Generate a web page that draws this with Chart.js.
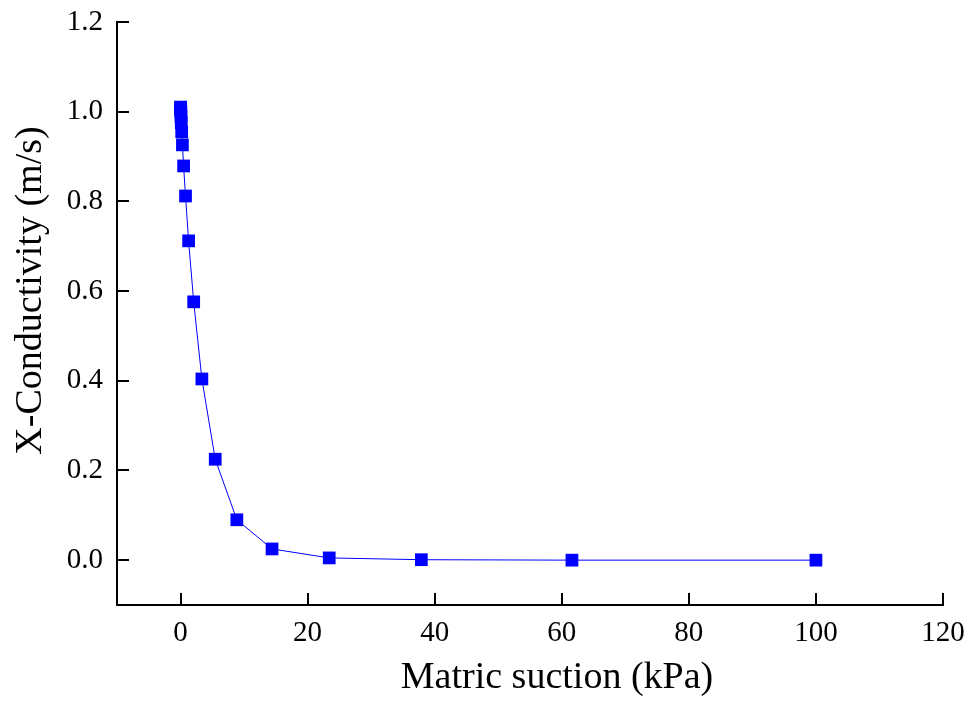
<!DOCTYPE html>
<html>
<head>
<meta charset="utf-8">
<script src="https://cdn.jsdelivr.net/npm/chart.js@4.4.1/dist/chart.umd.min.js"></script>
<style>
  html, body { margin: 0; padding: 0; background: #fff; }
  #wrap { width: 979px; height: 701px; }
</style>
</head>
<body>
<div id="wrap"><canvas id="main-chart" width="979" height="701"></canvas></div>
<script>
// Data
const suction = [0.01, 0.0162, 0.0264, 0.0428, 0.0695, 0.113, 0.183, 0.298, 0.483, 0.785,
                 1.27, 2.07, 3.36, 5.46, 8.86, 14.4, 23.4, 37.9, 61.6, 100];
const conductivity = [1.01, 1.01, 1.005, 1.0, 0.99, 0.975, 0.955, 0.926, 0.879, 0.812,
                      0.712, 0.576, 0.404, 0.225, 0.09, 0.025, 0.005, 0.001, 0.0, 0.0];
const xTicks = [0, 20, 40, 60, 80, 100, 120];
const yTicks = [0.0, 0.2, 0.4, 0.6, 0.8, 1.0, 1.2];
const xTitle = 'Matric suction (kPa)';
const yTitle = 'X-Conductivity (m/s)';

(function () {
  const canvas = document.getElementById('main-chart');
  const FONT = "'Liberation Serif', 'Times New Roman', serif";

  const points = suction.map((x, i) => ({ x, y: conductivity[i] }));

  // axis titles, placed slightly off-centre like the original
  const axisTitles = {
    id: 'axisTitles',
    afterDraw(chart) {
      const { ctx, chartArea } = chart;
      ctx.save();
      ctx.fillStyle = '#000';
      ctx.font = '38px ' + FONT;
      ctx.textAlign = 'center';
      ctx.textBaseline = 'alphabetic';
      ctx.fillText(xTitle, (chartArea.left + chartArea.right) / 2 + 27, 688);

      ctx.translate(31, (chartArea.top + chartArea.bottom) / 2 - 23);
      ctx.rotate(-Math.PI / 2);
      ctx.textBaseline = 'middle';
      ctx.fillText(yTitle, 0, 0);
      ctx.restore();
    },
  };

  new Chart(canvas, {
    type: 'scatter',
    data: {
      datasets: [
        {
          data: points,
          showLine: true,
          borderColor: '#0000ff',
          borderWidth: 1,
          backgroundColor: '#0000ff',
          pointStyle: 'rect',
          pointRadius: 9,
          pointHoverRadius: 9,
          pointBorderWidth: 0,
          tension: 0,
        },
      ],
    },
    options: {
      responsive: false,
      animation: false,
      layout: { padding: { top: 22, right: 36, left: 0, bottom: 0 } },
      plugins: { legend: { display: false }, tooltip: { enabled: false } },
      scales: {
        x: {
          type: 'linear',
          min: -10,
          max: 120,
          afterBuildTicks: (s) => { s.ticks = xTicks.map((v) => ({ value: v })); },
          afterFit: (s) => { s.height = 96; s.paddingLeft = 0; s.paddingRight = 0; },
          border: { display: true, color: '#000', width: 2 },
          grid: { drawOnChartArea: false, drawTicks: true, tickLength: -12, color: '#000', lineWidth: 2 },
          ticks: {
            color: '#000',
            font: { family: FONT, size: 29 },
            padding: 23,
            maxRotation: 0,
            callback: (v) => String(v),
          },
        },
        y: {
          type: 'linear',
          min: -0.1,
          max: 1.2,
          afterBuildTicks: (s) => { s.ticks = yTicks.map((v) => ({ value: v })); },
          afterFit: (s) => { s.width = 117; s.paddingTop = 0; s.paddingBottom = 0; },
          border: { display: true, color: '#000', width: 2 },
          grid: { drawOnChartArea: false, drawTicks: true, tickLength: -12, color: '#000', lineWidth: 2 },
          ticks: {
            color: '#000',
            font: { family: FONT, size: 29 },
            padding: 26,
            callback: (v) => Number(v).toFixed(1),
          },
        },
      },
    },
    plugins: [axisTitles],
  });
})();
</script>
</body>
</html>
